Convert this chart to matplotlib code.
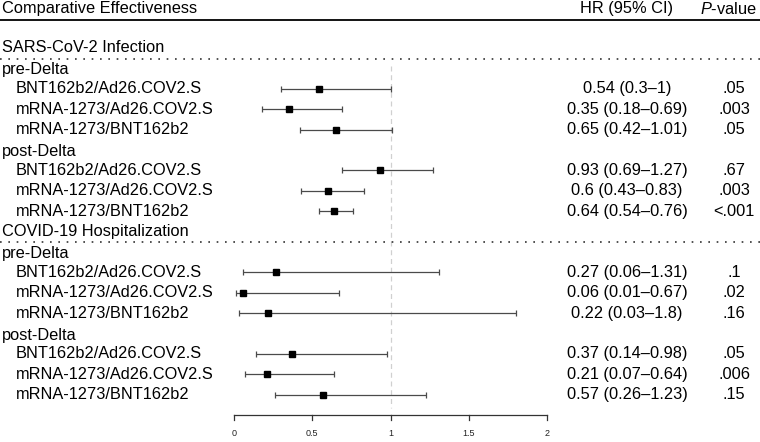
import numpy as np
import matplotlib.pyplot as plt
from matplotlib.transforms import blended_transform_factory

plt.rcParams['font.family'] = ['Liberation Sans', 'DejaVu Sans']
plt.rcParams['mathtext.fontset'] = 'custom'
plt.rcParams['mathtext.it'] = 'Liberation Sans:italic'
plt.rcParams['mathtext.rm'] = 'Liberation Sans'

outcomes = ['SARS-CoV-2 Infection', 'COVID-19 Hospitalization']
periods = ['pre-Delta', 'post-Delta']
comparisons = ['BNT162b2/Ad26.COV2.S', 'mRNA-1273/Ad26.COV2.S', 'mRNA-1273/BNT162b2']

# per outcome, per period, per comparison
hr = [0.54, 0.35, 0.65, 0.93, 0.60, 0.64,
      0.27, 0.06, 0.22, 0.37, 0.21, 0.57]
lo = [0.30, 0.18, 0.42, 0.69, 0.43, 0.54,
      0.06, 0.01, 0.03, 0.14, 0.07, 0.26]
hi = [1.00, 0.69, 1.01, 1.27, 0.83, 0.76,
      1.31, 0.67, 1.80, 0.98, 0.64, 1.23]
hr_text = ['0.54 (0.3–1)', '0.35 (0.18–0.69)', '0.65 (0.42–1.01)',
           '0.93 (0.69–1.27)', '0.6 (0.43–0.83)', '0.64 (0.54–0.76)',
           '0.27 (0.06–1.31)', '0.06 (0.01–0.67)', '0.22 (0.03–1.8)',
           '0.37 (0.14–0.98)', '0.21 (0.07–0.64)', '0.57 (0.26–1.23)']
pvals = ['.05', '.003', '.05', '.67', '.003', '<.001',
         '.1', '.02', '.16', '.05', '.006', '.15']
xticks = [0, 0.5, 1, 1.5, 2]

W, H = 760, 442
fig = plt.figure(figsize=(W / 100, H / 100), dpi=100)
ax = fig.add_axes([0, 0, 1, 1])
x0, scale = 234, 156.5  # pixel of HR=0, pixels per unit
ax.set_xlim(-x0 / scale, (W - x0) / scale)
ax.set_ylim(H, 0)
ax.axis('off')
tr = blended_transform_factory(ax.transAxes, ax.transData)
fs = 11.8

# header
ax.text(2 / W, 9, 'Comparative Effectiveness', transform=tr, fontsize=fs, va='center')
ax.text(626 / W, 9, 'HR (95% CI)', transform=tr, fontsize=fs, va='center', ha='center')
ax.text(728 / W, 9, r'$\mathit{P}$-value', transform=tr, fontsize=fs, va='center', ha='center')
ax.plot([0, 1], [19.5, 19.5], transform=tr, color='black', lw=1.3)

step = 20.4
y = 48
k = 0
for o in outcomes:
    ax.text(2 / W, y, o, transform=tr, fontsize=fs, va='center')
    ax.plot([0, 1], [y + 10.5, y + 10.5], transform=tr, color='#333333', lw=1.2,
            ls=(0, (1, 4)))
    y += step
    for p in periods:
        ax.text(2 / W, y + 1.5, p, transform=tr, fontsize=fs, va='center')
        y += step
        for c in comparisons:
            ax.text(16 / W, y, c, transform=tr, fontsize=fs, va='center')
            ax.errorbar(hr[k], y, xerr=[[hr[k] - lo[k]], [hi[k] - hr[k]]], fmt='s',
                        color='black', ms=5, ecolor='#4a4a4a', elinewidth=0.9,
                        capsize=2.5, capthick=0.9, zorder=3)
            ax.text(627 / W, y, hr_text[k], transform=tr, fontsize=fs, va='center', ha='center')
            ax.text(734 / W, y, pvals[k], transform=tr, fontsize=fs, va='center', ha='center')
            y += step
            k += 1

# reference line and axis
ax.plot([1, 1], [66, 408], color='#d0d0d0', lw=0.9, ls=(0, (4, 3)), zorder=1)
ay = 414.5
ax.plot([xticks[0], xticks[-1]], [ay, ay], color='#333333', lw=0.9)
for t in xticks:
    ax.plot([t, t], [ay, ay + 5], color='#333333', lw=0.9)
    ax.text(t, 434, f'{t:g}', fontsize=6.5, ha='center', va='center', color='#222222')

fig.savefig('out.png', dpi=100)
